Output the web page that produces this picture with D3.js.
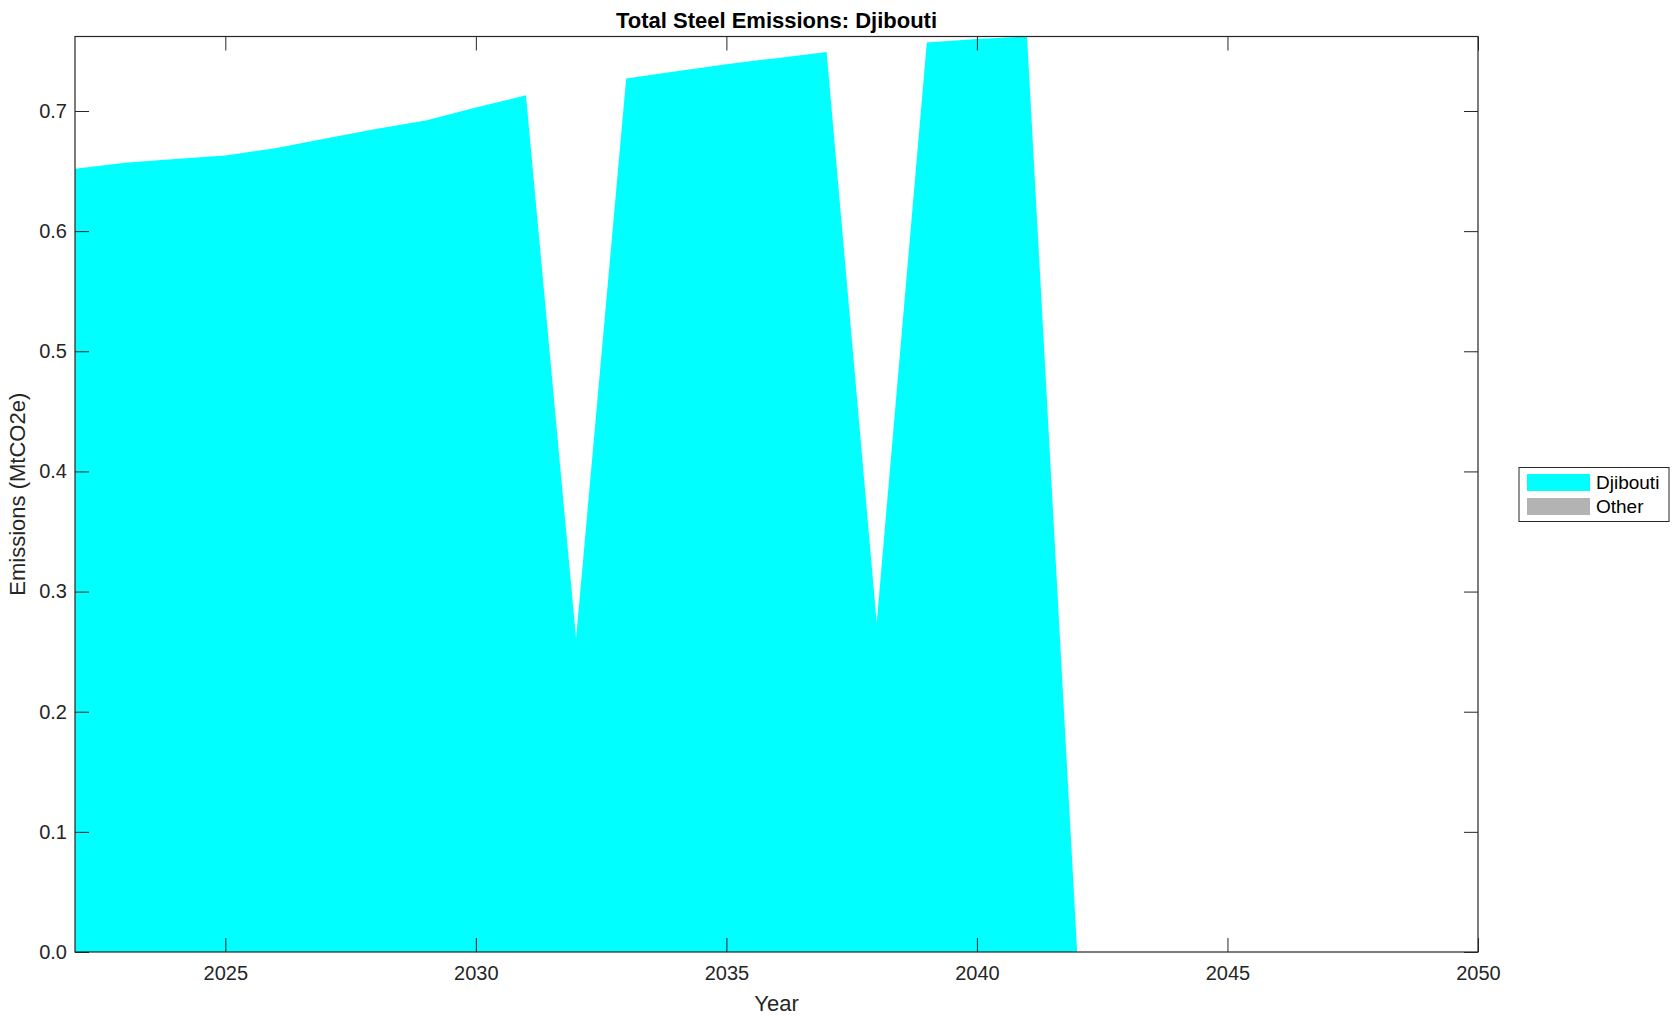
<!DOCTYPE html>
<html>
<head>
<meta charset="utf-8">
<script src="https://cdn.jsdelivr.net/npm/d3@7"></script>
<style>
  html, body { margin: 0; padding: 0; background: #fff; }
  svg { display: block; font-family: "Liberation Sans", Arial, Helvetica, sans-serif; }
</style>
</head>
<body>
<svg id="chart" width="1679" height="1021"></svg>
<script>
const years = [2022, 2023, 2024, 2025, 2026, 2027, 2028, 2029, 2030, 2031, 2032, 2033, 2034, 2035, 2036, 2037, 2038, 2039, 2040, 2041, 2042, 2043, 2044, 2045, 2046, 2047, 2048, 2049, 2050];
const djibouti = [0.652, 0.657, 0.660, 0.663, 0.669, 0.677, 0.685, 0.692, 0.703, 0.713, 0.261, 0.727, 0.733, 0.739, 0.744, 0.749, 0.274, 0.757, 0.760, 0.762, 0, 0, 0, 0, 0, 0, 0, 0, 0];
const other = [0, 0, 0, 0, 0, 0, 0, 0, 0, 0, 0, 0, 0, 0, 0, 0, 0, 0, 0, 0, 0, 0, 0, 0, 0, 0, 0, 0, 0];
const seriesNames = ["Djibouti", "Other"];
const seriesColors = ["#00FFFF", "#B3B3B3"];
const xTicks = [2025, 2030, 2035, 2040, 2045, 2050];
const yTicks = [0.0, 0.1, 0.2, 0.3, 0.4, 0.5, 0.6, 0.7];
const titleText = "Total Steel Emissions: Djibouti";
const xLabel = "Year";
const yLabel = "Emissions (MtCO2e)";

const svg = d3.select("#chart");
const m = { left: 75, right: 1478, top: 36.5, bottom: 952 };
const axisColor = "#262626";

const table = years.map((y, i) => ({ year: y, Djibouti: djibouti[i], Other: other[i] }));
const stack = d3.stack().keys(seriesNames);
const layers = stack(table);

const x = d3.scaleLinear().domain([2022, 2050]).range([m.left, m.right]);
const yMax = d3.max(layers[layers.length - 1], d => d[1]);
const y = d3.scaleLinear().domain([0, yMax]).range([m.bottom, m.top]);

const area = d3.area()
  .x(d => x(d.data.year))
  .y0(d => y(d[0]))
  .y1(d => y(d[1]));

svg.append("g").selectAll("path")
  .data(layers)
  .join("path")
  .attr("d", area)
  .attr("fill", (d, i) => seriesColors[i])
  .attr("stroke", "none");

const tickLen = 14;
const fontSize = 20;

// bottom axis
const gx = svg.append("g").attr("transform", `translate(0,${m.bottom})`)
  .call(d3.axisBottom(x).tickValues(xTicks).tickFormat(d3.format("d")).tickSizeInner(-tickLen).tickSizeOuter(0).tickPadding(14));
// top axis
const gxt = svg.append("g").attr("transform", `translate(0,${m.top})`)
  .call(d3.axisTop(x).tickValues(xTicks).tickFormat("").tickSizeInner(-tickLen).tickSizeOuter(0));
// left axis
const gy = svg.append("g").attr("transform", `translate(${m.left},0)`)
  .call(d3.axisLeft(y).tickValues(yTicks).tickFormat(d3.format(".1f")).tickSizeInner(-tickLen).tickSizeOuter(0).tickPadding(8));
// right axis
const gyr = svg.append("g").attr("transform", `translate(${m.right},0)`)
  .call(d3.axisRight(y).tickValues(yTicks).tickFormat("").tickSizeInner(-tickLen).tickSizeOuter(0));

[gx, gxt, gy, gyr].forEach(g => {
  g.selectAll(".domain").remove();
  g.selectAll(".tick line").attr("stroke", axisColor).attr("stroke-width", 1);
  g.selectAll(".tick text").attr("fill", axisColor).style("font-size", fontSize + "px").style("font-family", '"Liberation Sans", Arial, sans-serif');
});

// box
svg.append("rect")
  .attr("x", m.left).attr("y", m.top)
  .attr("width", m.right - m.left).attr("height", m.bottom - m.top)
  .attr("fill", "none").attr("stroke", axisColor).attr("stroke-width", 1.2);

// title
svg.append("text")
  .attr("x", (m.left + m.right) / 2).attr("y", 28)
  .attr("text-anchor", "middle")
  .style("font-size", "22px").style("font-weight", "bold")
  .attr("fill", "#000")
  .text(titleText);

// x label
svg.append("text")
  .attr("x", (m.left + m.right) / 2).attr("y", 1011)
  .attr("text-anchor", "middle")
  .style("font-size", "22px")
  .attr("fill", axisColor)
  .text(xLabel);

// y label
svg.append("text")
  .attr("transform", `translate(25,${(m.top + m.bottom) / 2}) rotate(-90)`)
  .attr("text-anchor", "middle")
  .style("font-size", "22px")
  .attr("fill", axisColor)
  .text(yLabel);

// legend
const lg = svg.append("g");
lg.append("rect")
  .attr("x", 1519).attr("y", 467.5).attr("width", 150).attr("height", 54)
  .attr("fill", "#fff").attr("stroke", axisColor).attr("stroke-width", 1);
seriesNames.forEach((name, i) => {
  const yy = 474 + i * 24;
  lg.append("rect").attr("x", 1527).attr("y", yy).attr("width", 63).attr("height", 17)
    .attr("fill", seriesColors[i]);
  lg.append("text").attr("x", 1596).attr("y", yy + 15)
    .style("font-size", "19px").attr("fill", "#000")
    .text(name);
});
</script>
</body>
</html>
